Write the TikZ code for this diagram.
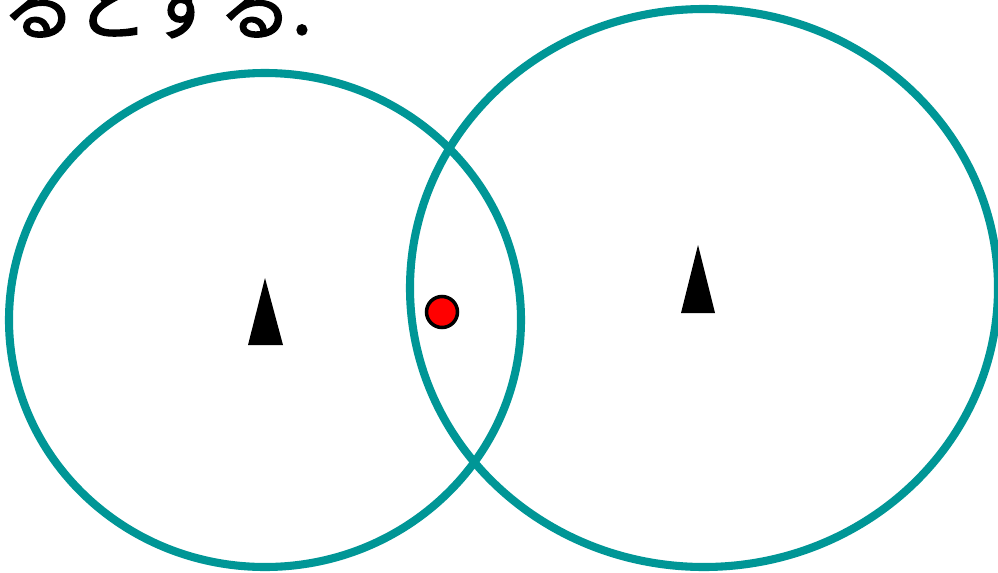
\documentclass[tikz,border=0pt]{standalone}
\usepackage{fontspec}
\newfontfamily\jpfont[FakeBold=2]{Noto Sans CJK JP}
\usepackage{tikz}
\usepackage{xcolor}
\usetikzlibrary{shapes,positioning,calc}
\definecolor{rangeTeal}{RGB}{0,150,150}

\begin{document}
\begin{tikzpicture}[x=0.02cm, y=-0.02cm]
                    \useasboundingbox (0,0) rectangle (998,572);
                    \node[anchor=base west, inner sep=0pt, font=\jpfont\fontsize{41.5}{41.5}\selectfont] (caption) at (2,34) {るとする.};
                    \draw[line width=4.6pt, rangeTeal] (265,320) ellipse [x radius=256, y radius=247];
                    \draw[line width=4.6pt, rangeTeal] (704,288) ellipse [x radius=294, y radius=279];
                    \fill (265,278) -- (283,345) -- (248,345) -- cycle;
                    \fill (698,245) -- (715,313) -- (681,313) -- cycle;
                    \node[circle, draw, line width=2pt, fill=red, minimum size=0.62cm, inner sep=0pt] (target) at (442,312) {};
                \end{tikzpicture}
\end{document}
